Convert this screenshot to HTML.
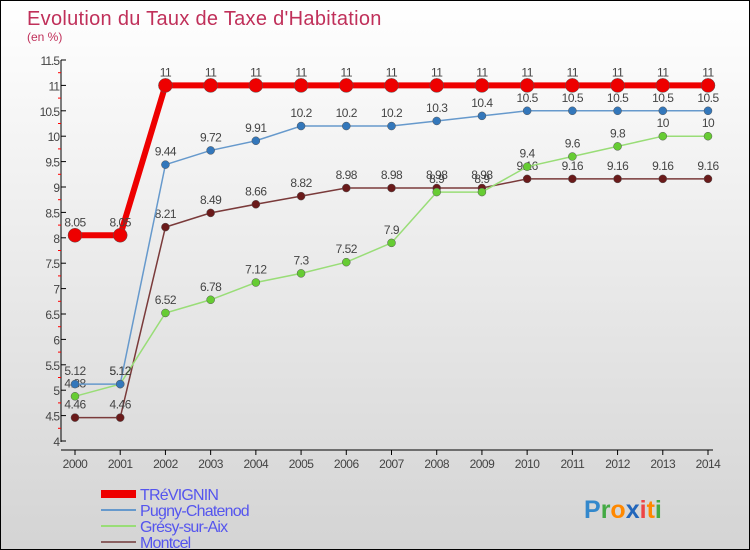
<!DOCTYPE html>
<html><head><meta charset="utf-8"><style>
body{margin:0;}
#c{position:relative;width:748px;height:548px;border:1px solid #000;background:linear-gradient(#ffffff,#d4d4d4);overflow:hidden;font-family:"Liberation Sans",sans-serif;}
</style></head><body>
<div id="c">
<svg id="s" width="748" height="548"></svg>
</div>
<script>
const years=[2000,2001,2002,2003,2004,2005,2006,2007,2008,2009,2010,2011,2012,2013,2014];
const trevignin=[8.05,8.05,11,11,11,11,11,11,11,11,11,11,11,11,11];
const pugny=[5.12,5.12,9.44,9.72,9.91,10.2,10.2,10.2,10.3,10.4,10.5,10.5,10.5,10.5,10.5];
const gresy=[4.88,5.12,6.52,6.78,7.12,7.3,7.52,7.9,8.9,8.9,9.4,9.6,9.8,10,10];
const montcel=[4.46,4.46,8.21,8.49,8.66,8.82,8.98,8.98,8.98,8.98,9.16,9.16,9.16,9.16,9.16];
const yTicks=[4,4.5,5,5.5,6,6.5,7,7.5,8,8.5,9,9.5,10,10.5,11,11.5];
const seriesNames=["TRéVIGNIN","Pugny-Chatenod","Grésy-sur-Aix","Montcel"];
const NS="http://www.w3.org/2000/svg";
const s=document.getElementById('s');
const X=i=>74+i*(707-74)/(years.length-1);
const Y=v=>440-(v-4)*(440-59)/7.5;
function el(t,a,p){const e=document.createElementNS(NS,t);for(const k in a)e.setAttribute(k,a[k]);(p||s).appendChild(e);return e;}
function txt(x,y,str,a){const e=el('text',Object.assign({x:x,y:y},a));e.textContent=str;return e;}
let t=txt(26,24,"Evolution du Taux de Taxe d'Habitation",{fill:'#c0305a','font-size':20,'letter-spacing':'0.3'});


t=txt(26,40,"(en %)",{fill:'#c0305a','font-size':12});


let ax=el('line',{x1:60,y1:59,x2:60,y2:441,stroke:'#000'});


ax=el('line',{x1:60,y1:449,x2:712,y2:449,stroke:'#000'});


yTicks.forEach((v,i)=>{
  el('line',{x1:60,y1:Y(v),x2:65,y2:Y(v),stroke:'#000'});
  if(i<yTicks.length-1)el('line',{x1:57,y1:Y(v+0.25),x2:60,y2:Y(v+0.25),stroke:'#f00'});
  const l=txt(58,Y(v)+5,String(v),{fill:'#444','font-size':12,'text-anchor':'end','letter-spacing':'-1'});
  
  
});
years.forEach((y,i)=>{
  el('line',{x1:X(i),y1:449,x2:X(i),y2:454,stroke:'#000'});
  const l=txt(X(i),467,String(y),{fill:'#444','font-size':12,'text-anchor':'middle','letter-spacing':'-0.5'});
  
  
});
function series(data,color,fill,w,r,name){
  const g=el('g',{});
  
  
  el('polyline',{points:data.map((v,i)=>X(i)+','+Y(v)).join(' '),fill:'none',stroke:color,'stroke-width':w},g);
  data.forEach((v,i)=>{
    const c=el('circle',{cx:X(i),cy:Y(v),r:r,fill:fill,stroke:'#555','stroke-width':0.5},g);
    
    
    const l=txt(X(i),Y(v)-9,String(v),{fill:'#444','font-size':12,'text-anchor':'middle','letter-spacing':'-0.5'},g);
    
    
  });
}
series(montcel,'#7a3a3a','#6a1a1a',1.5,4,'montcel-series');
series(gresy,'#99dd77','#66cc33',1.5,4,'gresy-series');
series(pugny,'#6699cc','#3377bb',1.5,4,'pugny-series');
series(trevignin,'#ee0000','#ee0000',6,7,'trevignin-series');
const lc=['#ee0000','#6699cc','#99dd77','#8a6060'];
const lw=[8,2,2,2];
seriesNames.forEach((n,i)=>{
  const y=493+i*16;
  const g=el('g',{});
  
  
  el('line',{x1:100,y1:y,x2:135,y2:y,stroke:lc[i],'stroke-width':lw[i]},g);
  txt(139,y+6,n,{fill:'#5555ee','font-size':16,'letter-spacing':'-0.8'},g);
});
const lg=el('text',{x:583,y:517,'font-size':25,'font-weight':'bold'});


[['P','#3388cc'],['r','#44aa44'],['o','#ff8800'],['x','#2266bb'],['i','#ee4444'],['t','#ff8800'],['i','#44aa44']].forEach(([c,f])=>{const ts=el('tspan',{fill:f},lg);ts.textContent=c;});
</script>
</body></html>
